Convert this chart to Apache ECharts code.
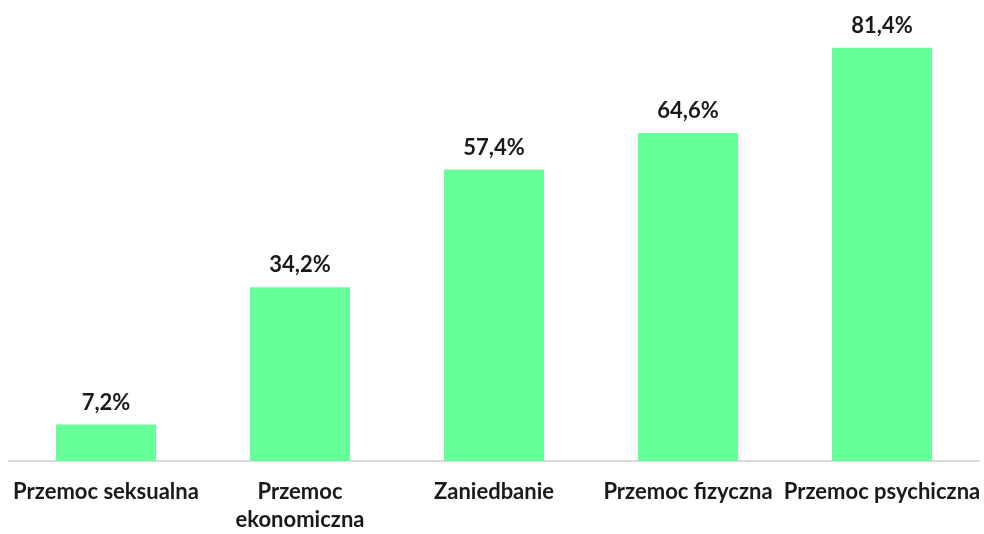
<!DOCTYPE html>
<html>
<head>
<meta charset="utf-8">
<script src="https://cdn.jsdelivr.net/npm/echarts@6/dist/echarts.min.js"></script>
<style>
  html, body { margin: 0; padding: 0; background: #fff; }
  #chart { width: 984px; height: 534px; }
</style>
</head>
<body>
<div id="chart"></div>
<script>
const categories = ['Przemoc seksualna', 'Przemoc\nekonomiczna', 'Zaniedbanie', 'Przemoc fizyczna', 'Przemoc psychiczna'];
const values = [7.2, 34.2, 57.4, 64.6, 81.4];

const barColor = '#66ff99';
const axisColor = '#d9d9d9';
const textColor = '#1a1a1a';
const fontFamily = 'Lato, "Open Sans", sans-serif';

const chart = echarts.init(document.getElementById('chart'));
chart.setOption({
  animation: false,
  grid: { left: 9, right: 5, top: 4, bottom: 68 },
  xAxis: {
    type: 'category',
    data: categories,
    axisLine: { lineStyle: { color: axisColor, width: 2 } },
    axisTick: { show: false },
    axisLabel: {
      interval: 0,
      color: textColor,
      fontFamily: fontFamily,
      fontWeight: 'bold',
      fontSize: 22,
      lineHeight: 28,
      margin: 17
    }
  },
  yAxis: {
    type: 'value',
    min: 0,
    max: 90,
    show: false,
    splitLine: { show: false }
  },
  series: [{
    type: 'bar',
    data: values,
    barWidth: 100,
    itemStyle: { color: barColor },
    label: {
      show: true,
      position: 'top',
      distance: 11,
      color: textColor,
      fontFamily: fontFamily,
      fontWeight: 'bold',
      fontSize: 22,
      formatter: p => p.value.toFixed(1).replace('.', ',') + '%'
    }
  }]
});
</script>
</body>
</html>
